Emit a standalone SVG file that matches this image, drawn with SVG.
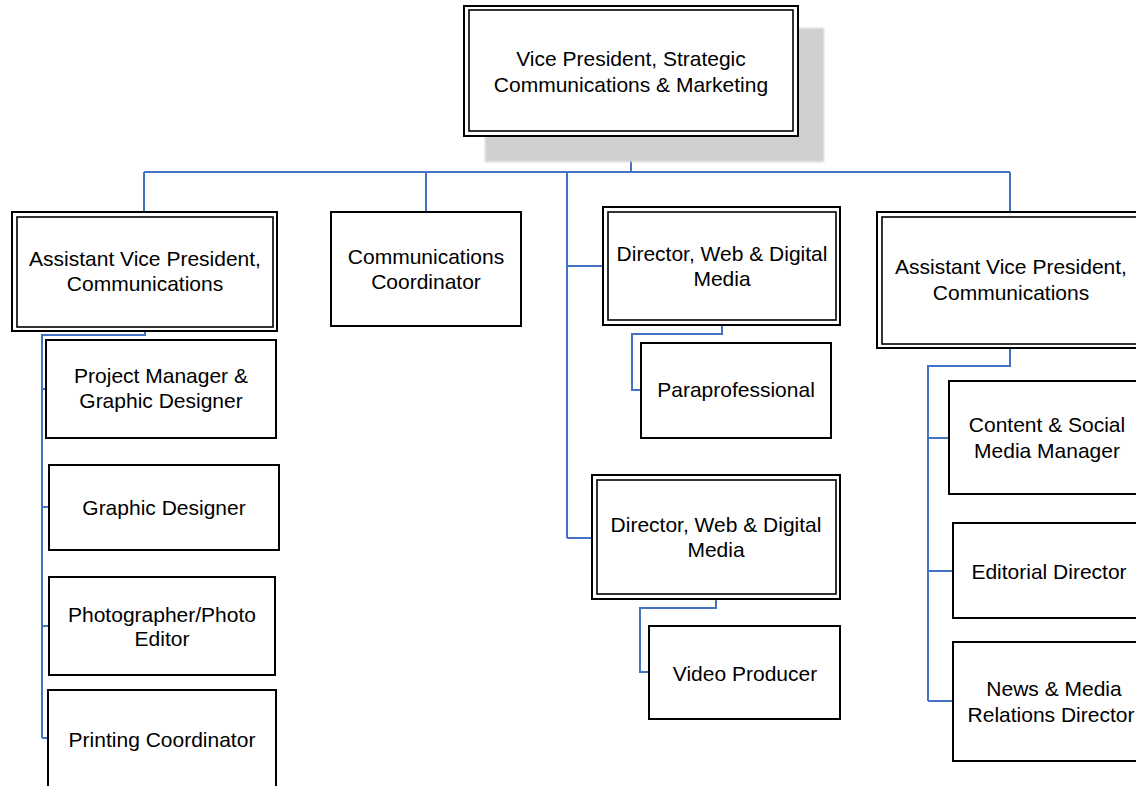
<svg xmlns="http://www.w3.org/2000/svg" width="1136" height="786" viewBox="0 0 1136 786">
<style>
.bg{fill:#fff}
.c{fill:none;stroke:#4472c4;stroke-width:2}
.box{fill:#fff;stroke:#000;stroke-width:2}
.o{fill:#fff;stroke:#000;stroke-width:2}
.i{fill:none;stroke:#000;stroke-width:1.6}
text{font-family:"Liberation Sans",Arial,sans-serif;font-size:21px;fill:#000;text-anchor:middle}
</style>
<defs>
<filter id="blur" x="-10%" y="-10%" width="120%" height="120%"><feGaussianBlur stdDeviation="1.2"/></filter>
</defs>
<rect class="bg" x="0" y="0" width="1136" height="786"/>
<g id="connectors">
<path class="c" d="M631,137 V172"/>
<path class="c" d="M144,172 H1010"/>
<path class="c" d="M144,172 V212"/>
<path class="c" d="M426,172 V212"/>
<path class="c" d="M567,172 V538"/>
<path class="c" d="M567,266 H603"/>
<path class="c" d="M567,538 H592"/>
<path class="c" d="M1010,172 V212"/>
<path class="c" d="M145,331 V335 H42 V738"/>
<path class="c" d="M42,389 H46"/>
<path class="c" d="M42,507 H49"/>
<path class="c" d="M42,626 H49"/>
<path class="c" d="M42,738 H48"/>
<path class="c" d="M722,325 V334 H632 V390 H641"/>
<path class="c" d="M716,599 V608 H640 V672 H649"/>
<path class="c" d="M1010,348 V366 H928 V701"/>
<path class="c" d="M928,438 H949"/>
<path class="c" d="M928,571 H953"/>
<path class="c" d="M928,701 H953"/>
</g>
<g id="vp">
<rect x="485" y="28" width="339" height="134" fill="#cfcfcf" filter="url(#blur)"/>
<rect class="o" x="464" y="6" width="334" height="130"/>
<rect class="i" x="469" y="10" width="324" height="121"/>
<text x="631" y="65.5">Vice President, Strategic</text>
<text x="631" y="91.5">Communications &amp; Marketing</text>
</g>
<g id="avp-left">
<rect class="o" x="12" y="212" width="265" height="119"/>
<rect class="i" x="17" y="217" width="256" height="110"/>
<text x="145" y="266">Assistant Vice President,</text>
<text x="145" y="291">Communications</text>
</g>
<g id="pm-gd">
<rect class="box" x="46" y="340" width="230" height="98"/>
<text x="161" y="383">Project Manager &amp;</text>
<text x="161" y="408">Graphic Designer</text>
</g>
<g id="gd">
<rect class="box" x="49" y="465" width="230" height="85"/>
<text x="164" y="515">Graphic Designer</text>
</g>
<g id="photo">
<rect class="box" x="49" y="577" width="226" height="98"/>
<text x="162" y="622">Photographer/Photo</text>
<text x="162" y="646">Editor</text>
</g>
<g id="printing">
<rect class="box" x="48" y="690" width="228" height="110"/>
<text x="162" y="747">Printing Coordinator</text>
</g>
<g id="comm-coord">
<rect class="box" x="331" y="212" width="190" height="114"/>
<text x="426" y="264">Communications</text>
<text x="426" y="289">Coordinator</text>
</g>
<g id="dir1">
<rect class="o" x="603" y="207" width="237" height="118"/>
<rect class="i" x="608" y="212" width="228" height="108"/>
<text x="722" y="261">Director, Web &amp; Digital</text>
<text x="722" y="286">Media</text>
</g>
<g id="para">
<rect class="box" x="641" y="343" width="190" height="95"/>
<text x="736" y="397">Paraprofessional</text>
</g>
<g id="dir2">
<rect class="o" x="592" y="475" width="248" height="124"/>
<rect class="i" x="597" y="480" width="239" height="114"/>
<text x="716" y="532">Director, Web &amp; Digital</text>
<text x="716" y="557">Media</text>
</g>
<g id="video">
<rect class="box" x="649" y="626" width="191" height="93"/>
<text x="745" y="681">Video Producer</text>
</g>
<g id="avp-right">
<rect class="o" x="877" y="212" width="268" height="136"/>
<rect class="i" x="882" y="217" width="258" height="127"/>
<text x="1011" y="274">Assistant Vice President,</text>
<text x="1011" y="300">Communications</text>
</g>
<g id="content">
<rect class="box" x="949" y="381" width="196" height="113"/>
<text x="1047" y="432">Content &amp; Social</text>
<text x="1047" y="458">Media Manager</text>
</g>
<g id="editorial">
<rect class="box" x="953" y="523" width="192" height="95"/>
<text x="1049" y="579">Editorial Director</text>
</g>
<g id="news">
<rect class="box" x="953" y="642" width="204" height="119"/>
<text x="1054" y="696">News &amp; Media</text>
<text x="1051" y="722">Relations Director</text>
</g>
</svg>
